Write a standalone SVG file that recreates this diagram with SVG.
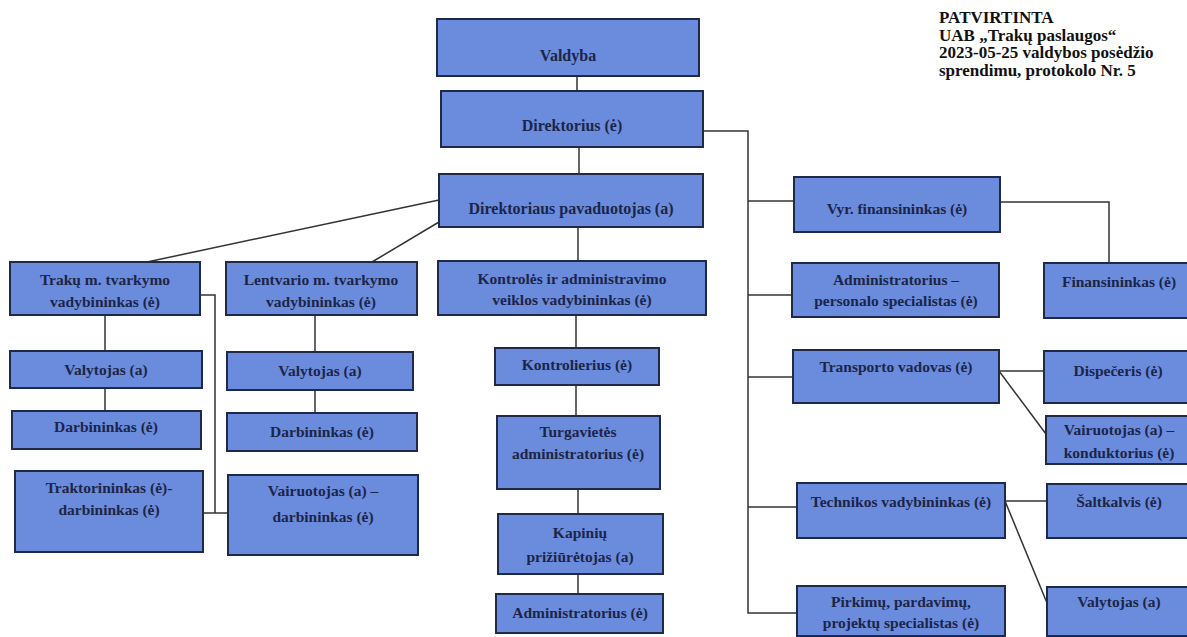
<svg xmlns="http://www.w3.org/2000/svg" width="1187" height="637" viewBox="0 0 1187 637">
<style>
.box{fill:#6b8cdd;stroke:#1f2a4a;stroke-width:2}
.t{font-family:"Liberation Serif","Times New Roman",serif;font-weight:bold;font-size:15.5px;fill:#1c2548;text-anchor:middle}
.big{font-size:16px}
.hdr{font-family:"Liberation Serif","Times New Roman",serif;font-size:17px;fill:#111;font-weight:bold}
.c{fill:none;stroke:#333;stroke-width:1.5}
</style>
<rect width="1187" height="637" fill="#fff"/>
<g id="header">
<text class="hdr" x="939" y="23">PATVIRTINTA</text>
<text class="hdr" x="939" y="40.5">UAB „Trakų paslaugos“</text>
<text class="hdr" x="939" y="58">2023-05-25 valdybos posėdžio</text>
<text class="hdr" x="939" y="75.5">sprendimu, protokolo Nr. 5</text>
</g>
<g id="connectors">
<path class="c" d="M577 76V91"/>
<path class="c" d="M579 147V174"/>
<path class="c" d="M578 227V261"/>
<path class="c" d="M439 200L147 262"/>
<path class="c" d="M439 222L372 262"/>
<path class="c" d="M105 315V351"/>
<path class="c" d="M105 388V411"/>
<path class="c" d="M315 315V352"/>
<path class="c" d="M315 390V413"/>
<path class="c" d="M200 295H215V513"/>
<path class="c" d="M203 513H228"/>
<path class="c" d="M576 315V348"/>
<path class="c" d="M576 385V416"/>
<path class="c" d="M578 489V514"/>
<path class="c" d="M578 574V594"/>
<path class="c" d="M703 131H748V613H797"/>
<path class="c" d="M748 201H794"/>
<path class="c" d="M748 295H792"/>
<path class="c" d="M748 377H793"/>
<path class="c" d="M748 507H797"/>
<path class="c" d="M1000 202H1109V263"/>
<path class="c" d="M999 371H1044"/>
<path class="c" d="M999 371L1046 434"/>
<path class="c" d="M1005 501H1047"/>
<path class="c" d="M1005 501L1047 603"/>
</g>
<g id="valdyba"><rect class="box" x="437" y="19" width="262" height="57"/><text class="t big" x="568" y="61">Valdyba</text></g>
<g id="direktorius"><rect class="box" x="441" y="91" width="262" height="56"/><text class="t big" x="572" y="131">Direktorius (ė)</text></g>
<g id="pavaduotojas"><rect class="box" x="439" y="174" width="264" height="53"/><text class="t big" x="571" y="214">Direktoriaus pavaduotojas (a)</text></g>
<g id="traku"><rect class="box" x="10" y="262" width="190" height="53"/><text class="t" x="105" y="285">Trakų m. tvarkymo</text><text class="t" x="105" y="307">vadybininkas (ė)</text></g>
<g id="lentvario"><rect class="box" x="226" y="262" width="191" height="53"/><text class="t" x="321" y="285">Lentvario m. tvarkymo</text><text class="t" x="321" y="307">vadybininkas (ė)</text></g>
<g id="kontroles"><rect class="box" x="438" y="261" width="268" height="54"/><text class="t" x="572" y="284">Kontrolės ir administravimo</text><text class="t" x="572" y="305">veiklos vadybininkas (ė)</text></g>
<g id="traku-valytojas"><rect class="box" x="10" y="351" width="192" height="37"/><text class="t" x="106" y="375">Valytojas (a)</text></g>
<g id="traku-darbininkas"><rect class="box" x="12" y="411" width="189" height="38"/><text class="t" x="106" y="432">Darbininkas (ė)</text></g>
<g id="traktorininkas"><rect class="box" x="15" y="471" width="188" height="81"/><text class="t" x="109" y="493">Traktorininkas (ė)-</text><text class="t" x="109" y="515">darbininkas (ė)</text></g>
<g id="lentvario-valytojas"><rect class="box" x="227" y="352" width="186" height="38"/><text class="t" x="320" y="376">Valytojas (a)</text></g>
<g id="lentvario-darbininkas"><rect class="box" x="227" y="413" width="190" height="38"/><text class="t" x="322" y="437">Darbininkas (ė)</text></g>
<g id="vairuotojas-darbininkas"><rect class="box" x="228" y="475" width="190" height="80"/><text class="t" x="323" y="496">Vairuotojas (a) –</text><text class="t" x="323" y="522">darbininkas (ė)</text></g>
<g id="kontrolierius"><rect class="box" x="495" y="348" width="164" height="37"/><text class="t" x="577" y="370">Kontrolierius (ė)</text></g>
<g id="turgavietes"><rect class="box" x="497" y="416" width="163" height="73"/><text class="t" x="578" y="437">Turgavietės</text><text class="t" x="578" y="459">administratorius (ė)</text></g>
<g id="kapiniu"><rect class="box" x="498" y="514" width="165" height="60"/><text class="t" x="580" y="538">Kapinių</text><text class="t" x="580" y="562">prižiūrėtojas (a)</text></g>
<g id="administratorius"><rect class="box" x="496" y="594" width="167" height="39"/><text class="t" x="580" y="618">Administratorius (ė)</text></g>
<g id="vyr-finansininkas"><rect class="box" x="794" y="177" width="206" height="55"/><text class="t" x="897" y="214">Vyr. finansininkas (ė)</text></g>
<g id="administratorius-personalo"><rect class="box" x="792" y="263" width="207" height="54"/><text class="t" x="896" y="285">Administratorius –</text><text class="t" x="896" y="306">personalo specialistas (ė)</text></g>
<g id="transporto"><rect class="box" x="793" y="350" width="206" height="53"/><text class="t" x="896" y="372">Transporto vadovas (ė)</text></g>
<g id="technikos"><rect class="box" x="797" y="483" width="208" height="55"/><text class="t" x="901" y="507">Technikos vadybininkas (ė)</text></g>
<g id="pirkimu"><rect class="box" x="797" y="586" width="208" height="50"/><text class="t" x="901" y="607">Pirkimų, pardavimų,</text><text class="t" x="901" y="628">projektų specialistas (ė)</text></g>
<g id="finansininkas"><rect class="box" x="1044" y="263" width="150" height="55"/><text class="t" x="1119" y="287">Finansininkas (ė)</text></g>
<g id="dispeceris"><rect class="box" x="1044" y="351" width="150" height="52"/><text class="t" x="1118" y="376">Dispečeris (ė)</text></g>
<g id="vairuotojas-konduktorius"><rect class="box" x="1046" y="416" width="148" height="48"/><text class="t" x="1119" y="435">Vairuotojas (a) –</text><text class="t" x="1119" y="458">konduktorius (ė)</text></g>
<g id="saltkalvis"><rect class="box" x="1047" y="484" width="147" height="54"/><text class="t" x="1119" y="507">Šaltkalvis (ė)</text></g>
<g id="valytojas-tech"><rect class="box" x="1047" y="587" width="147" height="49"/><text class="t" x="1119" y="607">Valytojas (a)</text></g>
</svg>
